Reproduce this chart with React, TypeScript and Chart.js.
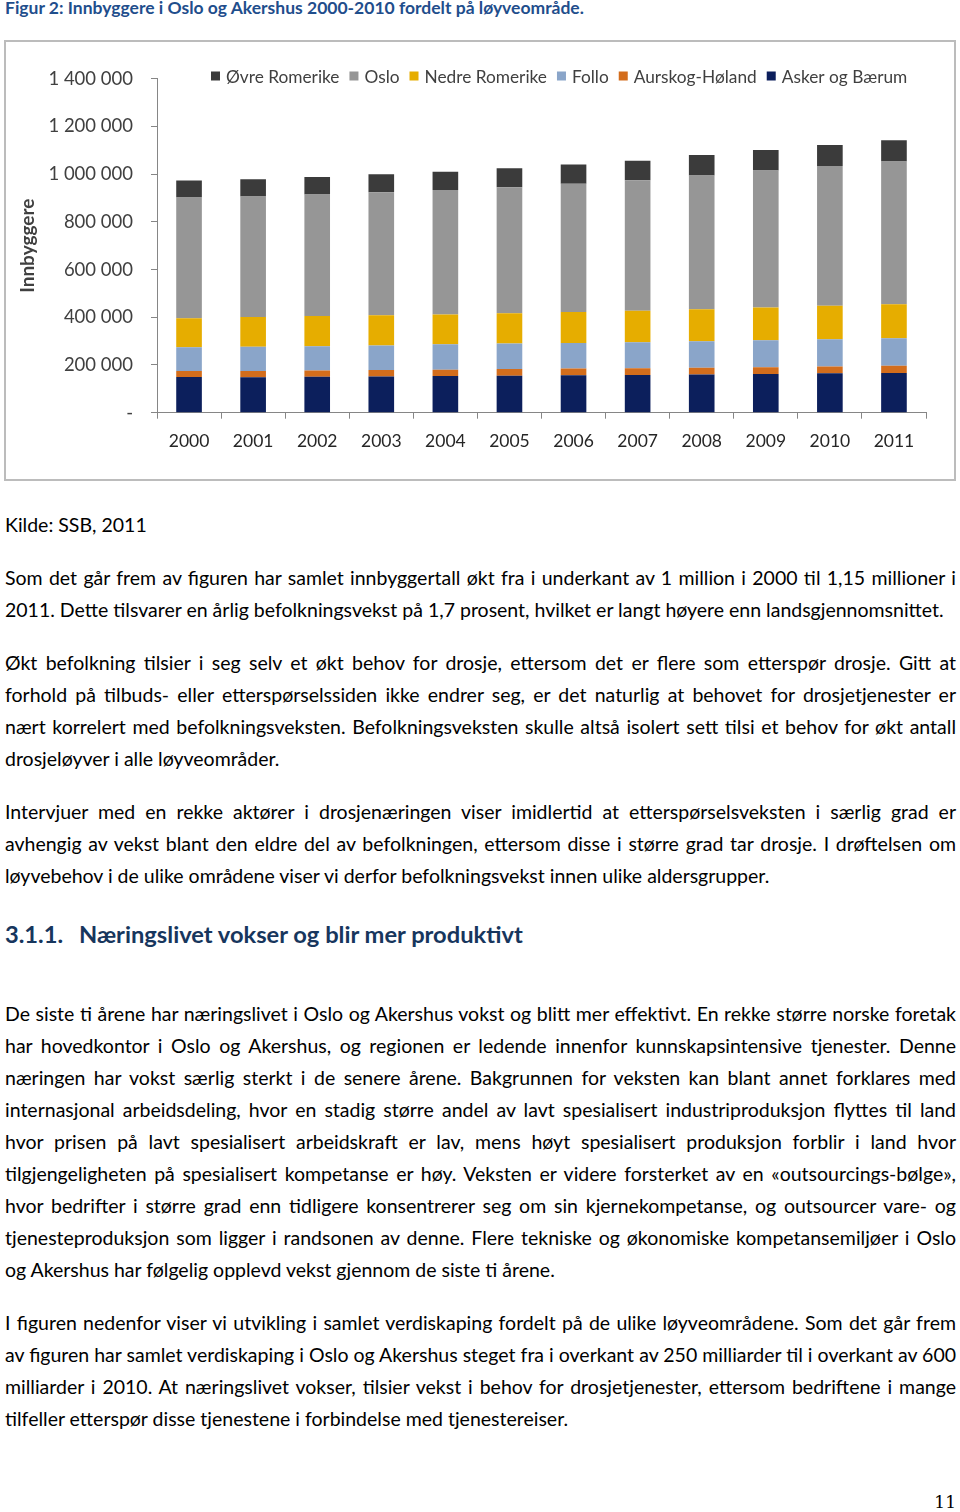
import React, { useEffect, useRef } from "react";
import { Chart, registerables } from "chart.js";

Chart.register(...registerables);

const years = ["2000", "2001", "2002", "2003", "2004", "2005", "2006", "2007", "2008", "2009", "2010", "2011"];
const askerOgBaerum = [150000, 149000, 151000, 152000, 154000, 155000, 157000, 158000, 160000, 162000, 165000, 166000];
const aurskogHoland = [25000, 26000, 26000, 27000, 26000, 28000, 28000, 28000, 28000, 29000, 29000, 31000];
const follo = [99000, 101000, 102000, 103000, 107000, 107000, 107000, 109000, 112000, 113000, 114000, 115000];
const nedreRomerike = [122000, 125000, 126000, 126000, 125000, 127000, 130000, 132000, 134000, 137000, 140000, 143000];
const oslo = [506000, 505000, 510000, 516000, 521000, 528000, 538000, 547000, 560000, 574000, 586000, 598000];
const ovreRomerike = [71000, 73000, 73000, 75000, 77000, 80000, 80000, 82000, 86000, 86000, 88000, 89000];
const yTicks = [0, 200000, 400000, 600000, 800000, 1000000, 1200000, 1400000];

const seriesNames = ["Asker og Bærum", "Aurskog-Høland", "Follo", "Nedre Romerike", "Oslo", "Øvre Romerike"];
const seriesValues = [askerOgBaerum, aurskogHoland, follo, nedreRomerike, oslo, ovreRomerike];
const seriesColors = ["#0c1f5c", "#d36d1c", "#8aa5c9", "#e6ad00", "#969696", "#3b3b3b"];

const FONT = "Lato, 'Open Sans', sans-serif";

function fmt(v: number): string {
  if (v === 0) return "-";
  return String(v).replace(/\B(?=(\d{3})+(?!\d))/g, " ");
}

const legendPlugin = {
  id: "customLegend",
  afterDraw(chart: any) {
    const ctx = chart.ctx;
    const area = chart.chartArea;
    ctx.save();
    ctx.font = `17.3px ${FONT}`;
    ctx.textBaseline = "middle";
    let x = area.left + 54;
    const y = 34;
    const order = [...seriesNames.keys()].reverse();
    for (const i of order) {
      ctx.fillStyle = seriesColors[i];
      ctx.fillRect(x, y - 4.5, 9, 9);
      x += 15;
      ctx.fillStyle = "#404040";
      ctx.fillText(seriesNames[i], x, y + 1);
      x += ctx.measureText(seriesNames[i]).width + 10;
    }
    ctx.restore();
  },
};

function BarChart() {
  const ref = useRef<HTMLCanvasElement>(null);
  useEffect(() => {
    if (!ref.current) return;
    const chart = new Chart(ref.current, {
      type: "bar",
      data: {
        labels: years,
        datasets: seriesNames.map((name, i) => ({
          label: name,
          data: seriesValues[i],
          backgroundColor: seriesColors[i],
          borderWidth: 0,
          barPercentage: 0.4,
          categoryPercentage: 1,
        })),
      },
      options: {
        responsive: false,
        animation: false,
        layout: { padding: { top: 36.7, right: 28, left: 0, bottom: 0 } },
        plugins: { legend: { display: false }, tooltip: { enabled: false } },
        scales: {
          x: {
            stacked: true,
            grid: { drawOnChartArea: false, drawTicks: true, tickLength: 6, color: "#868686", offset: true },
            border: { display: true, color: "#868686", width: 1 },
            ticks: { color: "#262626", font: { family: FONT, size: 17.5 }, padding: 12 },
            afterFit: (s: any) => { s.height = 66.3; },
          },
          y: {
            stacked: true,
            min: 0,
            max: 1400000,
            afterBuildTicks: (s: any) => { s.ticks = yTicks.map((v) => ({ value: v })); },
            grid: { drawOnChartArea: false, drawTicks: true, tickLength: 6, color: "#868686" },
            border: { display: true, color: "#868686", width: 1 },
            ticks: {
              color: "#404040",
              font: { family: FONT, size: 18.5 },
              padding: 18,
              callback: (v: any) => fmt(Number(v)),
            },
            title: {
              display: true,
              text: "Innbyggere",
              color: "#404040",
              font: { family: FONT, size: 19, weight: "bold" },
              padding: { top: 10, bottom: 0 },
            },
            afterFit: (s: any) => { s.width = 151; },
          },
        },
      },
      plugins: [legendPlugin],
    });
    return () => chart.destroy();
  }, []);
  return <canvas ref={ref} width={948} height={437} style={{ display: "block" }} />;
}

type Para = { top: number; lines: string[] };

const paras: Para[] = [
  {
    top: 562,
    lines: [
      "Som det går frem av figuren har samlet innbyggertall økt fra i underkant av 1 million i 2000 til 1,15 millioner i",
      "2011. Dette tilsvarer en årlig befolkningsvekst på 1,7 prosent, hvilket er langt høyere enn landsgjennomsnittet.",
    ],
  },
  {
    top: 647,
    lines: [
      "Økt befolkning tilsier i seg selv et økt behov for drosje, ettersom det er flere som etterspør drosje. Gitt at",
      "forhold på tilbuds- eller etterspørselssiden ikke endrer seg, er det naturlig at behovet for drosjetjenester er",
      "nært korrelert med befolkningsveksten. Befolkningsveksten skulle altså isolert sett tilsi et behov for økt antall",
      "drosjeløyver i alle løyveområder.",
    ],
  },
  {
    top: 796,
    lines: [
      "Intervjuer med en rekke aktører i drosjenæringen viser imidlertid at etterspørselsveksten i særlig grad er",
      "avhengig av vekst blant den eldre del av befolkningen, ettersom disse i større grad tar drosje. I drøftelsen om",
      "løyvebehov i de ulike områdene viser vi derfor befolkningsvekst innen ulike aldersgrupper.",
    ],
  },
  {
    top: 998,
    lines: [
      "De siste ti årene har næringslivet i Oslo og Akershus vokst og blitt mer effektivt. En rekke større norske foretak",
      "har hovedkontor i Oslo og Akershus, og regionen er ledende innenfor kunnskapsintensive tjenester. Denne",
      "næringen har vokst særlig sterkt i de senere årene. Bakgrunnen for veksten kan blant annet forklares med",
      "internasjonal arbeidsdeling, hvor en stadig større andel av lavt spesialisert industriproduksjon flyttes til land",
      "hvor prisen på lavt spesialisert arbeidskraft er lav, mens høyt spesialisert produksjon forblir i land hvor",
      "tilgjengeligheten på spesialisert kompetanse er høy. Veksten er videre forsterket av en «outsourcings-bølge»,",
      "hvor bedrifter i større grad enn tidligere konsentrerer seg om sin kjernekompetanse, og outsourcer vare- og",
      "tjenesteproduksjon som ligger i randsonen av denne. Flere tekniske og økonomiske kompetansemiljøer i Oslo",
      "og Akershus har følgelig opplevd vekst gjennom de siste ti årene.",
    ],
  },
  {
    top: 1307,
    lines: [
      "I figuren nedenfor viser vi utvikling i samlet verdiskaping fordelt på de ulike løyveområdene. Som det går frem",
      "av figuren har samlet verdiskaping i Oslo og Akershus steget fra i overkant av 250 milliarder til i overkant av 600",
      "milliarder i 2010. At næringslivet vokser, tilsier vekst i behov for drosjetjenester, ettersom bedriftene i mange",
      "tilfeller etterspør disse tjenestene i forbindelse med tjenestereiser.",
    ],
  },
];

const bodyFont: React.CSSProperties = { fontFamily: FONT, fontSize: 19.5, lineHeight: "32px", color: "#000" };

export default function App() {
  return (
    <div style={{ position: "absolute", left: 0, top: 0, width: 960, height: 1512, background: "#fff", overflow: "hidden" }}>
      <div style={{ position: "absolute", left: 5, top: -2, lineHeight: "20px", fontFamily: FONT, fontWeight: "bold", fontSize: 17.5, color: "#1f4e8c" }}>
        Figur 2: Innbyggere i Oslo og Akershus 2000-2010 fordelt på løyveområde.
      </div>
      <div style={{ position: "absolute", left: 4, top: 40, width: 948, height: 437, border: "2px solid #bcbcbc" }}>
        <BarChart />
      </div>
      <div style={{ ...bodyFont, position: "absolute", left: 5, top: 509 }}>Kilde: SSB, 2011</div>
      {paras.map((p, pi) => (
        <div key={pi} style={{ ...bodyFont, position: "absolute", left: 5, top: p.top, width: 951 }}>
          {p.lines.map((l, li) => (
            <div
              key={li}
              style={{
                textAlign: li === p.lines.length - 1 ? "left" : "justify",
                textAlignLast: li === p.lines.length - 1 ? "left" : "justify",
                height: 32,
              }}
            >
              {l}
            </div>
          ))}
        </div>
      ))}
      <div style={{ position: "absolute", left: 5, top: 916, lineHeight: "36px", fontFamily: FONT, fontWeight: "bold", fontSize: 23.7, color: "#17365d" }}>
        <span style={{ display: "inline-block", width: 74 }}>3.1.1.</span>
        <span>Næringslivet vokser og blir mer produktivt</span>
      </div>
      <div style={{ position: "absolute", right: 4, top: 1490, lineHeight: "24px", fontFamily: "'DejaVu Serif', serif", fontSize: 17, color: "#000" }}>
        11
      </div>
    </div>
  );
}
